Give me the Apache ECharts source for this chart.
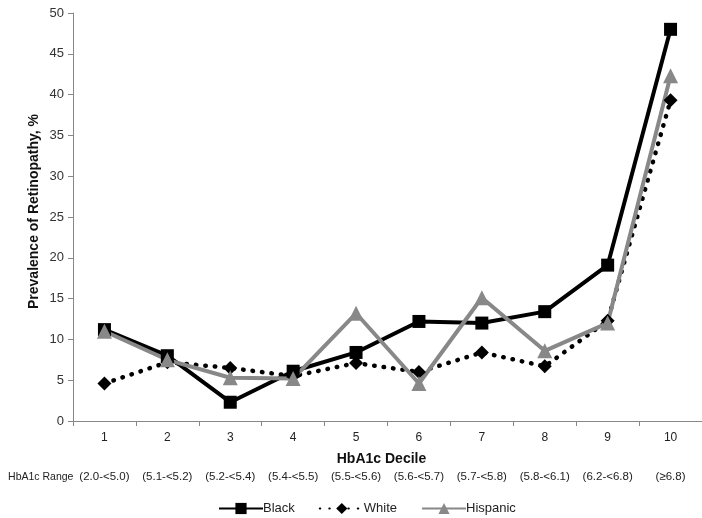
<!DOCTYPE html>
<html>
<head>
<meta charset="utf-8">
<script src="https://cdn.jsdelivr.net/npm/echarts@6/dist/echarts.min.js"></script>
<style>html,body{margin:0;padding:0;background:#fff;}#c{width:702px;height:518px;}</style>
</head>
<body>
<div id="c"></div>
<script>
const deciles = ['1','2','3','4','5','6','7','8','9','10'];
const ranges = ['(2.0-<5.0)','(5.1-<5.2)','(5.2-<5.4)','(5.4-<5.5)','(5.5-<5.6)','(5.6-<5.7)','(5.7-<5.8)','(5.8-<6.1)','(6.2-<6.8)','(≥6.8)'];
const yTicks = {min: 0, max: 50, interval: 5};
const black = [11.2, 8.0, 2.3, 6.1, 8.4, 12.2, 12.0, 13.4, 19.1, 48.0];
const white = [4.6, 7.2, 6.5, 5.5, 7.1, 6.0, 8.4, 6.7, 12.3, 39.3];
const hispanic = [11.0, 7.5, 5.3, 5.2, 13.2, 4.6, 15.1, 8.6, 12.0, 42.3];

const font = 'Liberation Sans, Arial, sans-serif';
const chart = echarts.init(document.getElementById('c'));
chart.setOption({
  animation: false,
  textStyle: {fontFamily: font},
  grid: {left: 73, top: 13, width: 633, height: 408, containLabel: false},
  legend: {
    left: 213, top: 497,
    itemWidth: 44, itemHeight: 14, itemGap: 24,
    textStyle: {fontSize: 13, color: '#222', fontFamily: font, padding: [0,0,0,-5]},
    data: ['Black','White','Hispanic']
  },
  xAxis: [{
    type: 'category', data: deciles, position: 'bottom',
    axisLine: {lineStyle: {color: '#888', width: 1}},
    axisTick: {show: true, length: 5, lineStyle: {color: '#888'}},
    axisLabel: {fontSize: 12, color: '#222', margin: 11},
    name: 'HbA1c Decile', nameLocation: 'middle', nameGap: 31,
    nameTextStyle: {fontSize: 14, fontWeight: 'bold', color: '#111', padding: [0,0,0,-12]}
  }, {
    type: 'category', data: ranges, position: 'bottom', offset: 50,
    axisLine: {show: false}, axisTick: {show: false},
    axisLabel: {fontSize: 11.5, color: '#222', margin: 0, interval: 0, hideOverlap: false},
    name: 'HbA1c Range', nameLocation: 'start', nameGap: -4,
    nameTextStyle: {fontSize: 10.5, color: '#222', verticalAlign: 'top', padding: [1,0,0,0]}
  }],
  yAxis: {
    type: 'value', min: yTicks.min, max: yTicks.max, interval: yTicks.interval,
    axisLine: {show: true, lineStyle: {color: '#888'}},
    axisTick: {show: true, length: 5, lineStyle: {color: '#888'}},
    splitLine: {show: false},
    axisLabel: {fontSize: 13, color: '#333', margin: 9}
  },
  graphic: [{
    type: 'text', left: 27, top: 114, rotation: Math.PI/2,
    style: {text: 'Prevalence of Retinopathy, %', font: 'bold 14px ' + font, fill: '#111'}
  }],
  series: [{
    name: 'Black', type: 'line', data: black, xAxisIndex: 0,
    symbol: 'rect', symbolSize: 13,
    lineStyle: {color: '#000', width: 4},
    itemStyle: {color: '#000'}
  }, {
    name: 'White', type: 'line', data: white, xAxisIndex: 0,
    symbol: 'diamond', symbolSize: 14,
    lineStyle: {color: '#000', width: 4.5, type: [0.5, 9], cap: 'round'},
    itemStyle: {color: '#000'}
  }, {
    name: 'Hispanic', type: 'line', data: hispanic, xAxisIndex: 0,
    symbol: 'triangle', symbolSize: 15,
    lineStyle: {color: '#888', width: 4},
    itemStyle: {color: '#888'}
  }]
});
</script>
</body>
</html>
